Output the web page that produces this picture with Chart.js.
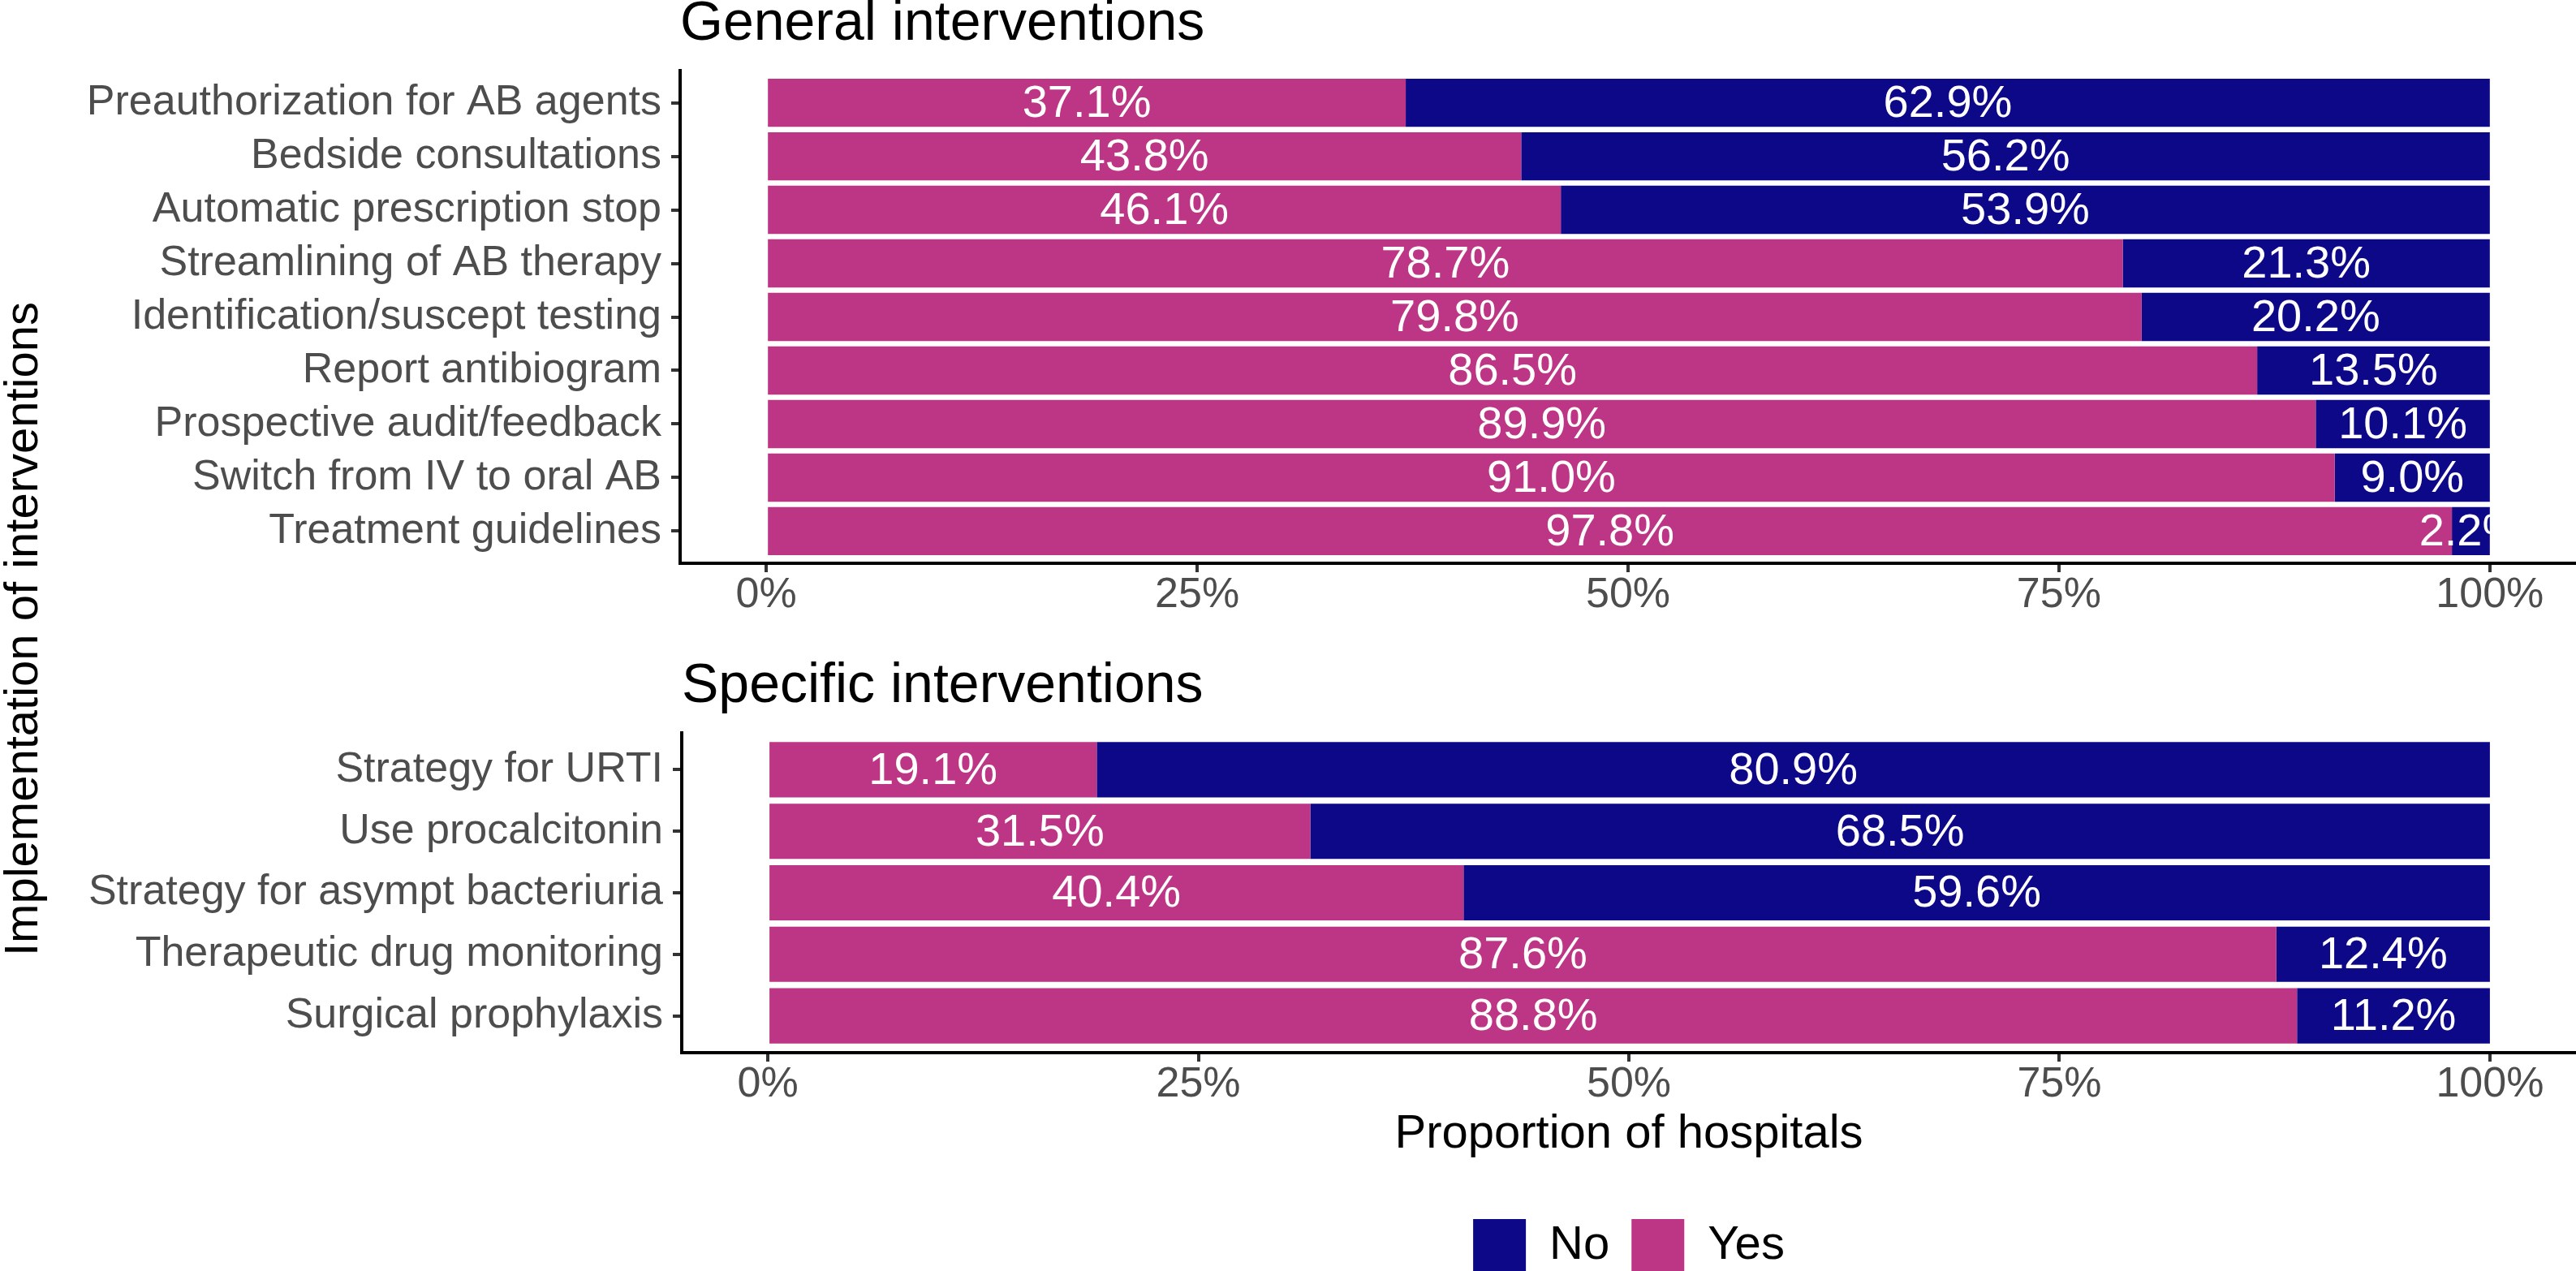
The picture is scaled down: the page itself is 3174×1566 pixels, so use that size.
<!DOCTYPE html>
<html>
<head>
<meta charset="utf-8">
<script src="https://cdn.jsdelivr.net/npm/chart.js@4.4.1/dist/chart.umd.min.js"></script>
<style>
    html, body {
        margin: 0;
        padding: 0;
        background: #FFFFFF;
    }
    body {
        position: relative;
        width: 3174px;
        height: 1566px;
        overflow: hidden;
        font-family: "Liberation Sans", Arial, sans-serif;
    }
    #generalChart {
        position: absolute;
        left: 0;
        top: -7px;
    }
    #specificChart {
        position: absolute;
        left: 0;
        top: 809px;
    }
    #yTitle {
        position: absolute;
        left: 26px;
        top: 775px;
        transform: translate(-50%, -50%) rotate(-90deg);
        font-size: 58px;
        line-height: 1;
        white-space: nowrap;
        color: #000000;
    }
</style>
</head>
<body>
<canvas id="generalChart" width="3174" height="810"></canvas>
<canvas id="specificChart" width="3174" height="785"></canvas>
<div id="yTitle">Implementation of interventions</div>

<script>
// Categories, top to bottom
const generalLabels = [
    'Preauthorization for AB agents',
    'Bedside consultations',
    'Automatic prescription stop',
    'Streamlining of AB therapy',
    'Identification/suscept testing',
    'Report antibiogram',
    'Prospective audit/feedback',
    'Switch from IV to oral AB',
    'Treatment guidelines'
];
const generalYes = [37.1, 43.8, 46.1, 78.7, 79.8, 86.5, 89.9, 91.0, 97.8];
const generalNo = [62.9, 56.2, 53.9, 21.3, 20.2, 13.5, 10.1, 9.0, 2.2];

const specificLabels = [
    'Strategy for URTI',
    'Use procalcitonin',
    'Strategy for asympt bacteriuria',
    'Therapeutic drug monitoring',
    'Surgical prophylaxis'
];
const specificYes = [19.1, 31.5, 40.4, 87.6, 88.8];
const specificNo = [80.9, 68.5, 59.6, 12.4, 11.2];

const xTicks = [0, 25, 50, 75, 100];

const YES_COLOR = '#BC3685';
const NO_COLOR = '#0D0887';
const FONT = '"Liberation Sans", Arial, sans-serif';

Chart.defaults.font.family = FONT;

// White percentage labels centred in each segment
const barLabels = {
    id: 'barLabels',
    afterDatasetsDraw(chart) {
        const ctx = chart.ctx;
        ctx.save();
        ctx.fillStyle = '#FFFFFF';
        ctx.font = '56px ' + FONT;
        ctx.textAlign = 'center';
        ctx.textBaseline = 'middle';
        chart.data.datasets.forEach((ds, i) => {
            chart.getDatasetMeta(i).data.forEach((bar, j) => {
                const x = (bar.x + bar.base) / 2;
                ctx.fillText(ds.data[j].toFixed(1) + '%', x, bar.y + 2);
            });
        });
        ctx.restore();
    }
};

function buildChart(canvasId, cats, yes, no, opts) {
    const positions = cats.map((c, i) => i);
    return new Chart(document.getElementById(canvasId), {
        type: 'bar',
        data: {
            labels: positions,
            datasets: [
                {
                    label: 'Yes',
                    data: yes,
                    backgroundColor: YES_COLOR,
                    barPercentage: 0.9,
                    categoryPercentage: 1.0
                },
                {
                    label: 'No',
                    data: no,
                    backgroundColor: NO_COLOR,
                    barPercentage: 0.9,
                    categoryPercentage: 1.0
                }
            ]
        },
        options: {
            indexAxis: 'y',
            responsive: false,
            animation: false,
            layout: {
                padding: { left: 0, right: 0, top: 0, bottom: opts.padBottom }
            },
            scales: {
                x: {
                    type: 'linear',
                    stacked: true,
                    offset: false,
                    min: -5,
                    max: 105,
                    afterBuildTicks: function(scale) {
                        scale.ticks = xTicks.map(v => ({ value: v }));
                    },
                    afterFit: function(scale) {
                        scale.height = opts.xAxisHeight;
                    },
                    ticks: {
                        callback: function(value) {
                            return value + '%';
                        },
                        color: '#4D4D4D',
                        font: { size: 52, lineHeight: 1 },
                        padding: 3,
                        maxRotation: 0,
                        autoSkip: false
                    },
                    grid: {
                        offset: false,
                        drawOnChartArea: false,
                        drawTicks: true,
                        tickLength: 11,
                        color: '#333333',
                        lineWidth: 4
                    },
                    border: { display: true, color: '#000000', width: 4 },
                    title: opts.xTitle
                },
                y: {
                    type: 'linear',
                    stacked: true,
                    reverse: true,
                    offset: false,
                    min: -0.6,
                    max: cats.length - 0.4,
                    afterBuildTicks: function(scale) {
                        scale.ticks = positions.map(v => ({ value: v }));
                    },
                    afterFit: function(scale) {
                        scale.width = opts.yAxisWidth;
                    },
                    ticks: {
                        callback: function(value) {
                            return cats[value];
                        },
                        color: '#4D4D4D',
                        font: { size: 52, lineHeight: 1 },
                        padding: 12,
                        autoSkip: false
                    },
                    grid: {
                        offset: false,
                        drawOnChartArea: false,
                        drawTicks: true,
                        tickLength: 11,
                        color: '#333333',
                        lineWidth: 4
                    },
                    border: { display: true, color: '#000000', width: 4 }
                }
            },
            plugins: {
                title: {
                    display: true,
                    text: opts.title,
                    align: 'start',
                    fullSize: false,
                    color: '#000000',
                    font: { size: 68, weight: 'normal', lineHeight: 1 },
                    padding: { top: 3, bottom: 23 }
                },
                legend: opts.legend,
                tooltip: { enabled: false }
            }
        },
        plugins: [barLabels]
    });
}

document.addEventListener('DOMContentLoaded', function() {
    // General interventions panel
    buildChart('generalChart', generalLabels, generalYes, generalNo, {
        title: 'General interventions',
        padBottom: 9,
        xAxisHeight: 100,
        yAxisWidth: 838,
        xTitle: { display: false },
        legend: { display: false }
    });

    // Specific interventions panel, carries the x title and legend
    buildChart('specificChart', specificLabels, specificYes, specificNo, {
        title: 'Specific interventions',
        padBottom: 17,
        xAxisHeight: 178,
        yAxisWidth: 840,
        xTitle: {
            display: true,
            text: 'Proportion of hospitals',
            color: '#000000',
            font: { size: 58, lineHeight: 1 },
            padding: { top: 0, bottom: 48 }
        },
        legend: {
            display: true,
            position: 'bottom',
            fullSize: false,
            reverse: true,
            labels: {
                boxWidth: 65,
                boxHeight: 65,
                padding: 27,
                color: '#000000',
                font: { size: 58 }
            }
        }
    });
});
</script>
</body>
</html>
